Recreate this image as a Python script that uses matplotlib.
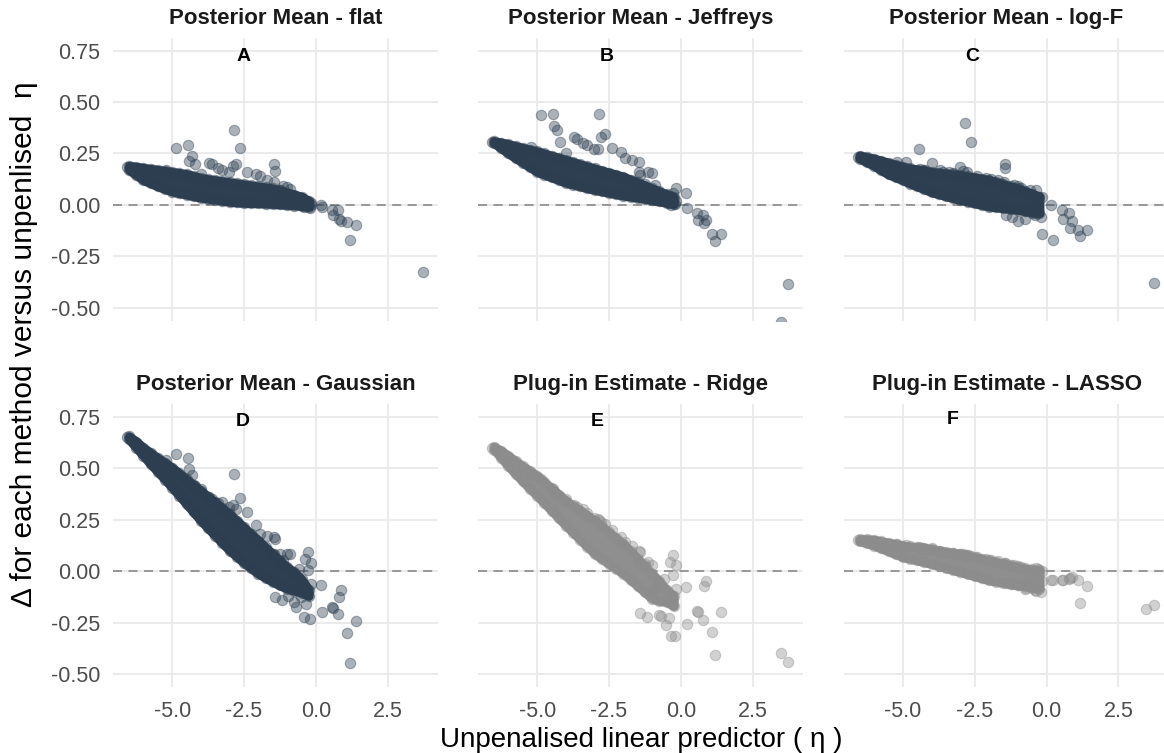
import matplotlib
matplotlib.use("Agg")
import matplotlib.pyplot as plt

plt.rcParams['font.family'] = ['Liberation Sans', 'DejaVu Sans']

# Panel titles / letters
titles = ['Posterior Mean - flat', 'Posterior Mean - Jeffreys', 'Posterior Mean - log-F',
          'Posterior Mean - Gaussian', 'Plug-in Estimate - Ridge', 'Plug-in Estimate - LASSO']
letters = ['A', 'B', 'C', 'D', 'E', 'F']
letter_x = [-2.5, -2.58, -2.59, -2.56, -2.9, -3.28]
letter_y = [0.72, 0.72, 0.72, 0.725, 0.725, 0.735]

# Dense band of points: lower and upper edge of the cloud at each eta
band_x = [-6.5, -6.25, -6.0, -5.75, -5.5, -5.25, -5.0, -4.75, -4.5, -4.25, -4.0, -3.75, -3.5,
          -3.25, -3.0, -2.75, -2.5, -2.25, -2.0, -1.75, -1.5, -1.25, -1.0, -0.75, -0.5, -0.25]

flat_lo = [0.17, 0.145, 0.12, 0.105, 0.09, 0.077, 0.065, 0.057, 0.05, 0.042, 0.035, 0.03, 0.025,
           0.02, 0.015, 0.012, 0.01, 0.009, 0.008, 0.006, 0.005, 0.002, 0.0, -0.003, -0.005, -0.01]
flat_hi = [0.19, 0.185, 0.18, 0.175, 0.17, 0.165, 0.16, 0.155, 0.15, 0.14, 0.13, 0.125, 0.12,
           0.115, 0.11, 0.105, 0.10, 0.095, 0.09, 0.085, 0.08, 0.07, 0.06, 0.05, 0.04, 0.02]

jeffreys_lo = [0.30, 0.275, 0.25, 0.227, 0.205, 0.183, 0.161, 0.147, 0.134, 0.121, 0.108, 0.099, 0.09,
               0.081, 0.073, 0.066, 0.059, 0.052, 0.045, 0.04, 0.035, 0.029, 0.024, 0.017, 0.01, 0.004]
jeffreys_hi = [0.31, 0.303, 0.295, 0.286, 0.277, 0.268, 0.26, 0.25, 0.239, 0.229, 0.218, 0.208, 0.197,
               0.187, 0.177, 0.167, 0.157, 0.147, 0.137, 0.123, 0.109, 0.094, 0.08, 0.066, 0.052, 0.038]

logf_lo = [0.225, 0.207, 0.19, 0.168, 0.148, 0.134, 0.12, 0.104, 0.09, 0.076, 0.062, 0.052, 0.042,
           0.033, 0.024, 0.016, 0.008, 0.0, -0.008, -0.012, -0.016, -0.02, -0.024, -0.03, -0.035, -0.04]
logf_hi = [0.24, 0.232, 0.225, 0.215, 0.205, 0.195, 0.185, 0.178, 0.172, 0.166, 0.16, 0.156, 0.152,
           0.148, 0.145, 0.139, 0.133, 0.127, 0.121, 0.11, 0.1, 0.09, 0.08, 0.067, 0.054, 0.04]

gauss_lo = [0.64, 0.6, 0.56, 0.52, 0.483, 0.445, 0.406, 0.366, 0.326, 0.285, 0.245, 0.208, 0.172,
            0.135, 0.1, 0.07, 0.04, 0.013, -0.013, -0.033, -0.052, -0.07, -0.085, -0.095, -0.105, -0.12]
gauss_hi = [0.655, 0.63, 0.6, 0.575, 0.55, 0.527, 0.503, 0.475, 0.447, 0.418, 0.39, 0.362, 0.334,
            0.305, 0.277, 0.245, 0.212, 0.18, 0.148, 0.115, 0.083, 0.05, 0.019, -0.005, -0.04, -0.09]

ridge_lo = [0.59, 0.55, 0.51, 0.472, 0.436, 0.4, 0.366, 0.33, 0.294, 0.257, 0.221, 0.187, 0.152,
            0.118, 0.084, 0.059, 0.035, 0.011, -0.013, -0.043, -0.073, -0.104, -0.134, -0.145, -0.15, -0.17]
ridge_hi = [0.605, 0.585, 0.56, 0.535, 0.51, 0.487, 0.463, 0.433, 0.403, 0.372, 0.342, 0.318, 0.294,
            0.27, 0.245, 0.217, 0.188, 0.16, 0.132, 0.096, 0.06, 0.023, -0.013, -0.05, -0.09, -0.12]

lasso_lo = [0.145, 0.135, 0.124, 0.11, 0.096, 0.082, 0.068, 0.06, 0.052, 0.043, 0.035, 0.025, 0.015,
            0.005, -0.005, -0.015, -0.025, -0.035, -0.045, -0.051, -0.057, -0.063, -0.069, -0.074, -0.08, -0.085]
lasso_hi = [0.155, 0.155, 0.152, 0.145, 0.138, 0.131, 0.124, 0.12, 0.116, 0.112, 0.108, 0.1, 0.092,
            0.088, 0.084, 0.076, 0.068, 0.06, 0.052, 0.044, 0.036, 0.027, 0.019, 0.013, 0.008, 0.003]

# Scattered points (same eta in every panel)
eta = [-4.88, -4.45, -4.40, -4.30, -4.22, -3.99, -3.72, -3.60, -3.40, -3.25,
       -3.03, -2.90, -2.85, -2.78, -2.64, -2.41, -2.10, -1.95, -1.70, -1.45,
       -1.43, -1.47, -1.15, -1.01, -0.90, -1.42, -1.19, -0.58, -0.38, -0.29,
       -0.17, -0.29, -0.17, -0.41, -0.20, -0.36, -0.70, -0.98, -0.75, -0.52,
       0.17, 0.23, 0.55, 0.58, 0.78, 0.87, 0.81, 1.10, 1.18, 1.40,
       3.47, 3.74, -6.57, -6.10, -5.20, -1.25]
d_flat = [0.279, 0.29, 0.213, 0.237, 0.20, 0.15, 0.205, 0.20, 0.18, 0.17,
          0.16, 0.19, 0.366, 0.20, 0.277, 0.16, 0.15, 0.14, 0.12, 0.197,
          0.165, 0.11, 0.09, 0.085, 0.075, 0.06, 0.05, 0.03, 0.02, 0.015,
          0.01, 0.005, 0.0, -0.01, -0.015, -0.005, 0.03, 0.04, 0.045, 0.02,
          0.0, -0.008, -0.024, -0.05, -0.027, -0.076, -0.07, -0.085, -0.17, -0.10,
          -0.62, -0.324, 0.185, 0.165, 0.17, 0.07]
d_jeffreys = [0.435, 0.444, 0.382, 0.363, 0.306, 0.25, 0.33, 0.32, 0.30, 0.29,
              0.27, 0.27, 0.444, 0.33, 0.347, 0.277, 0.258, 0.226, 0.22, 0.21,
              0.145, 0.16, 0.161, 0.153, 0.097, 0.08, 0.07, 0.05, 0.045, 0.06,
              0.08, 0.03, 0.02, 0.01, 0.005, 0.0, 0.03, 0.04, 0.035, 0.03,
              0.056, -0.016, -0.037, -0.073, -0.048, -0.073, -0.089, -0.142, -0.177, -0.142,
              -0.57, -0.387, 0.305, 0.29, 0.28, 0.10]
d_logf = [0.21, 0.27, 0.175, 0.17, 0.168, 0.206, 0.17, 0.16, 0.16, 0.155,
          0.185, 0.165, 0.40, 0.16, 0.306, 0.14, 0.13, 0.125, 0.12, 0.20,
          0.177, 0.11, 0.097, 0.09, 0.08, -0.05, -0.06, 0.07, 0.073, 0.04,
          0.04, -0.01, -0.142, -0.05, -0.06, -0.04, -0.03, -0.08, -0.07, -0.04,
          0.0, -0.169, -0.024, -0.069, -0.04, -0.08, -0.113, -0.121, -0.153, -0.121,
          -0.62, -0.379, 0.234, 0.215, 0.21, 0.08]
d_gauss = [0.568, 0.548, 0.495, 0.466, 0.415, 0.40, 0.36, 0.35, 0.33, 0.337,
           0.31, 0.32, 0.474, 0.30, 0.353, 0.285, 0.224, 0.181, 0.17, 0.165,
           0.155, 0.084, 0.052, 0.084, 0.081, -0.126, -0.14, 0.011, 0.06, 0.092,
           0.039, 0.003, -0.061, -0.223, -0.235, -0.158, -0.174, -0.12, -0.15, -0.126,
           -0.069, -0.198, -0.174, -0.18, -0.21, -0.094, -0.126, -0.30, -0.445, -0.244,
           -0.70, -0.62, 0.653, 0.60, 0.54, 0.081]
d_ridge = [0.45, 0.398, 0.39, 0.37, 0.36, 0.35, 0.32, 0.31, 0.30, 0.281,
           0.26, 0.253, 0.25, 0.24, 0.23, 0.20, 0.168, 0.14, 0.12, 0.10,
           0.092, 0.039, 0.044, 0.03, -0.085, -0.206, -0.223, -0.037, 0.044, 0.076,
           0.03, -0.02, -0.085, -0.23, -0.315, -0.315, -0.22, -0.085, -0.215, -0.26,
           -0.077, -0.255, -0.194, -0.2, -0.239, -0.048, -0.074, -0.295, -0.408, -0.198,
           -0.40, -0.44, 0.60, 0.55, 0.47, 0.036]
d_lasso = [0.125, 0.118, 0.112, 0.11, 0.105, 0.11, 0.10, 0.095, 0.09, 0.09,
           0.085, 0.085, 0.08, 0.08, 0.075, 0.07, 0.06, 0.055, 0.05, 0.04,
           0.04, 0.035, 0.03, 0.025, 0.02, -0.06, -0.065, -0.03, 0.015, 0.01,
           0.0, -0.01, -0.05, -0.09, -0.1, -0.095, -0.08, -0.07, -0.085, -0.075,
           -0.042, -0.042, -0.045, -0.045, -0.04, -0.03, -0.035, -0.042, -0.153, -0.073,
           -0.182, -0.163, 0.152, 0.14, 0.13, 0.028]

band_lo = [flat_lo, jeffreys_lo, logf_lo, gauss_lo, ridge_lo, lasso_lo]
band_hi = [flat_hi, jeffreys_hi, logf_hi, gauss_hi, ridge_hi, lasso_hi]
scatter_y = [d_flat, d_jeffreys, d_logf, d_gauss, d_ridge, d_lasso]
colors = ['#2C3E50', '#2C3E50', '#2C3E50', '#2C3E50', '#8C8C8C', '#8C8C8C']
core_colors = ['#2E3F51', '#2E3F51', '#2E3F51', '#2E3F51', '#8F8F8F', '#8F8F8F']

W, H = 1164, 753
fig = plt.figure(figsize=(W / 100, H / 100), dpi=100)

col_left = [113.3, 478.3, 844.0]
row_top = [38.3, 404.5]
pw, ph = 325.0, 282.8

for i in range(6):
    r, c = divmod(i, 3)
    ax = fig.add_axes([col_left[c] / W, 1 - (row_top[r] + ph) / H, pw / W, ph / H])
    ax.set_xlim(-7.05, 4.26)
    ax.set_ylim(-0.565, 0.81)
    for s in ax.spines.values():
        s.set_visible(False)
    ax.set_xticks([-5.0, -2.5, 0.0, 2.5])
    ax.set_yticks([0.75, 0.5, 0.25, 0.0, -0.25, -0.5])
    ax.grid(True, color='#EBEBEB', lw=1.45)
    ax.set_axisbelow(True)
    ax.tick_params(length=0, labelsize=15.5, labelcolor='#4D4D4D')
    ax.tick_params(axis='x', pad=10)
    ax.tick_params(axis='y', pad=9.5)
    if r == 1:
        ax.set_xticklabels(['-5.0', '-2.5', '0.0', '2.5'])
    else:
        ax.set_xticklabels([])
    if c == 0:
        ax.set_yticklabels(['0.75', '0.50', '0.25', '0.00', '-0.25', '-0.50'])
    else:
        ax.set_yticklabels([])

    ax.axhline(0, color='#999999', lw=1.45, ls=(0, (4.5, 3.2)), zorder=1)

    # dense core of the cloud: overlapping points read as solid colour
    col = colors[i]
    ax.fill_between(band_x, band_lo[i], band_hi[i], facecolor=core_colors[i],
                    edgecolor=core_colors[i], lw=6.5, joinstyle='round', zorder=2)
    for ys in (band_lo[i], band_hi[i]):
        ax.plot(band_x, ys, 'o', ms=7.5, color=col, alpha=0.4, mew=0.8, zorder=3)
    ax.plot(eta, scatter_y[i], 'o', ms=7.5, color=col, alpha=0.4, mew=0.8, zorder=3)

    ax.text(0.5, 1 + 14 / ph, titles[i], transform=ax.transAxes, ha='center', va='baseline',
            fontsize=16, fontweight='bold', color='#1A1A1A')
    ax.text(letter_x[i], letter_y[i], letters[i], ha='center', va='center',
            fontsize=14, fontweight='bold', color='black', zorder=4)

fig.text(641 / W, 1 - 747 / H, 'Unpenalised linear predictor ( \u03b7 )', ha='center', va='baseline',
         fontsize=20, color='black')
fig.text(24 / W, 1 - 344 / H, '\u0394 for each method versus unpenlised  \u03b7', ha='center', va='center',
         rotation=90, fontsize=21.5, color='black')

fig.savefig('out.png', dpi=100)
